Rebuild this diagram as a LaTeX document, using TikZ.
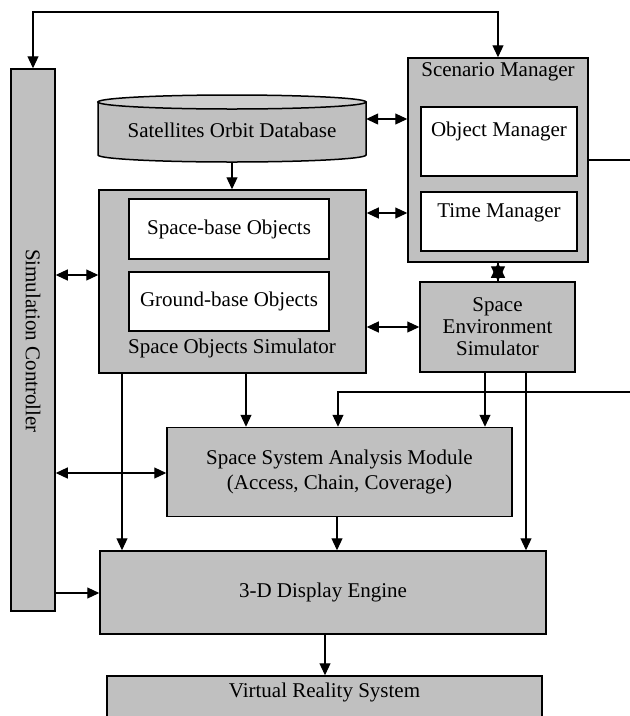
\documentclass[tikz,border=0pt]{standalone}
\usepackage{fontspec}
\setmainfont{Liberation Serif}
\usetikzlibrary{arrows.meta,calc}
\definecolor{boxgray}{RGB}{192,192,192}
\definecolor{topgray}{RGB}{206,206,206}
\begin{document}
\begin{tikzpicture}[x=1pt,y=-1pt,
  every node/.style={font=\fontsize{21}{22}\selectfont},
  box/.style={draw, line width=1.5pt, fill=boxgray, inner sep=0pt},
  wbox/.style={draw, line width=1.5pt, fill=white, inner sep=0pt},
  ghost/.style={inner sep=0pt},
  arr/.style={-{Triangle[length=12pt,width=11pt]}, line width=1.2pt},
  bigarr/.style={-{Triangle[length=15pt,width=14pt]}, line width=1.2pt},
  darr/.style={{Triangle[length=12pt,width=11pt]}-{Triangle[length=12pt,width=11pt]}, line width=1.2pt},
  ln/.style={line width=1.2pt}]
\useasboundingbox (0,0) rectangle (630,716);
\clip (0,0) rectangle (630,716);
\fill[white] (0,0) rectangle (630,716);

% Simulation controller
\node[box, minimum width=44pt, minimum height=542pt] (sc) at (33,340) {};
\node[rotate=-90] (sctext) at (33,341) {Simulation Controller};

% Scenario manager
\node[box, minimum width=180pt, minimum height=204pt] (scen) at (498,160) {};
\node (scentext) at (498,72) {Scenario Manager};
\node[wbox, minimum width=156pt, minimum height=69pt] (om) at (499,141.5) {};
\node (omtext) at (499,131) {Object Manager};
\node[wbox, minimum width=156pt, minimum height=59pt] (tm) at (499,221.5) {};
\node (tmtext) at (499,213) {Time Manager};

% Database cylinder
\node[ghost, minimum width=268pt, minimum height=67pt] (db) at (232,128.5) {};
\filldraw[fill=boxgray, line width=1.5pt] (98,102) -- (98,155) arc[start angle=180, end angle=360, x radius=134pt, y radius=7pt] -- (366,102) -- cycle;
\filldraw[fill=topgray, line width=1.5pt] (232,102) ellipse[x radius=134pt, y radius=7pt];
\node (dbtext) at (232,130) {Satellites Orbit Database};

% Space objects simulator
\node[box, minimum width=267pt, minimum height=183pt] (sos) at (232.5,281.5) {};
\node[wbox, minimum width=200pt, minimum height=60pt] (sb) at (229,229) {Space-base Objects};
\node[wbox, minimum width=200pt, minimum height=59pt] (gb) at (229,301.5) {Ground-base Objects};
\node (sostext) at (232,348) {Space Objects Simulator};

% Space environment simulator
\node[box, minimum width=155pt, minimum height=90pt, align=center] (ses) at (497.5,327) {Space\\Environment\\Simulator};

% Analysis module
\node[box, minimum width=345pt, minimum height=89pt, align=center, font=\fontsize{21}{25}\selectfont] (ssam) at (339.5,472) {Space System Analysis Module\\(Access, Chain, Coverage)};

% 3-D display
\node[box, minimum width=446pt, minimum height=83pt] (disp) at (323,592.5) {3-D Display Engine};

% Virtual reality
\node[box, minimum width=435pt, minimum height=56pt] (vr) at (324.5,704) {};
\node (vrtext) at (324.5,692) {Virtual Reality System};

% Connectors
\coordinate (tl) at (33,12);
\coordinate (tr) at (498,12);
\draw[darr] (sc.north) -- (tl) -- (tr) -- (scen.north);
\draw[darr] (db.east |- 0,119) -- (scen.west |- 0,119);
\draw[arr] (db.south) -- (sos.north -| db.south);
\draw[darr] (sc.east |- 0,275) -- (sos.west |- 0,275);
\draw[darr] (sos.east |- 0,213) -- (scen.west |- 0,213);
\draw[darr] (sos.east |- 0,327) -- (ses.west |- 0,327);
\draw[bigarr] (scen.south -| 498,0) -- (ses.north -| 498,0);
\draw[bigarr] (ses.north -| 498,0) -- (scen.south -| 498,0);
\coordinate (rout) at (632,160);
\draw[ln] (scen.east |- 0,160) -- (rout);
\draw[arr] (ses.south -| 485,0) -- (ssam.north -| 485,0);
\draw[arr] (ses.south -| 526,0) -- (disp.north -| 526,0);
\coordinate (rin) at (632,392);
\coordinate (rbend) at (338,392);
\draw[arr] (rin) -- (rbend) -- (ssam.north -| rbend);
\draw[arr] (sos.south -| 122,0) -- (disp.north -| 122,0);
\draw[arr] (sos.south -| 246,0) -- (ssam.north -| 246,0);
\draw[darr] (sc.east |- 0,473) -- (ssam.west |- 0,473);
\draw[arr] (ssam.south -| 337,0) -- (disp.north -| 337,0);
\draw[arr] (sc.east |- 0,593) -- (disp.west |- 0,593);
\draw[arr] (disp.south -| 325,0) -- (vr.north -| 325,0);
\end{tikzpicture}
\end{document}
